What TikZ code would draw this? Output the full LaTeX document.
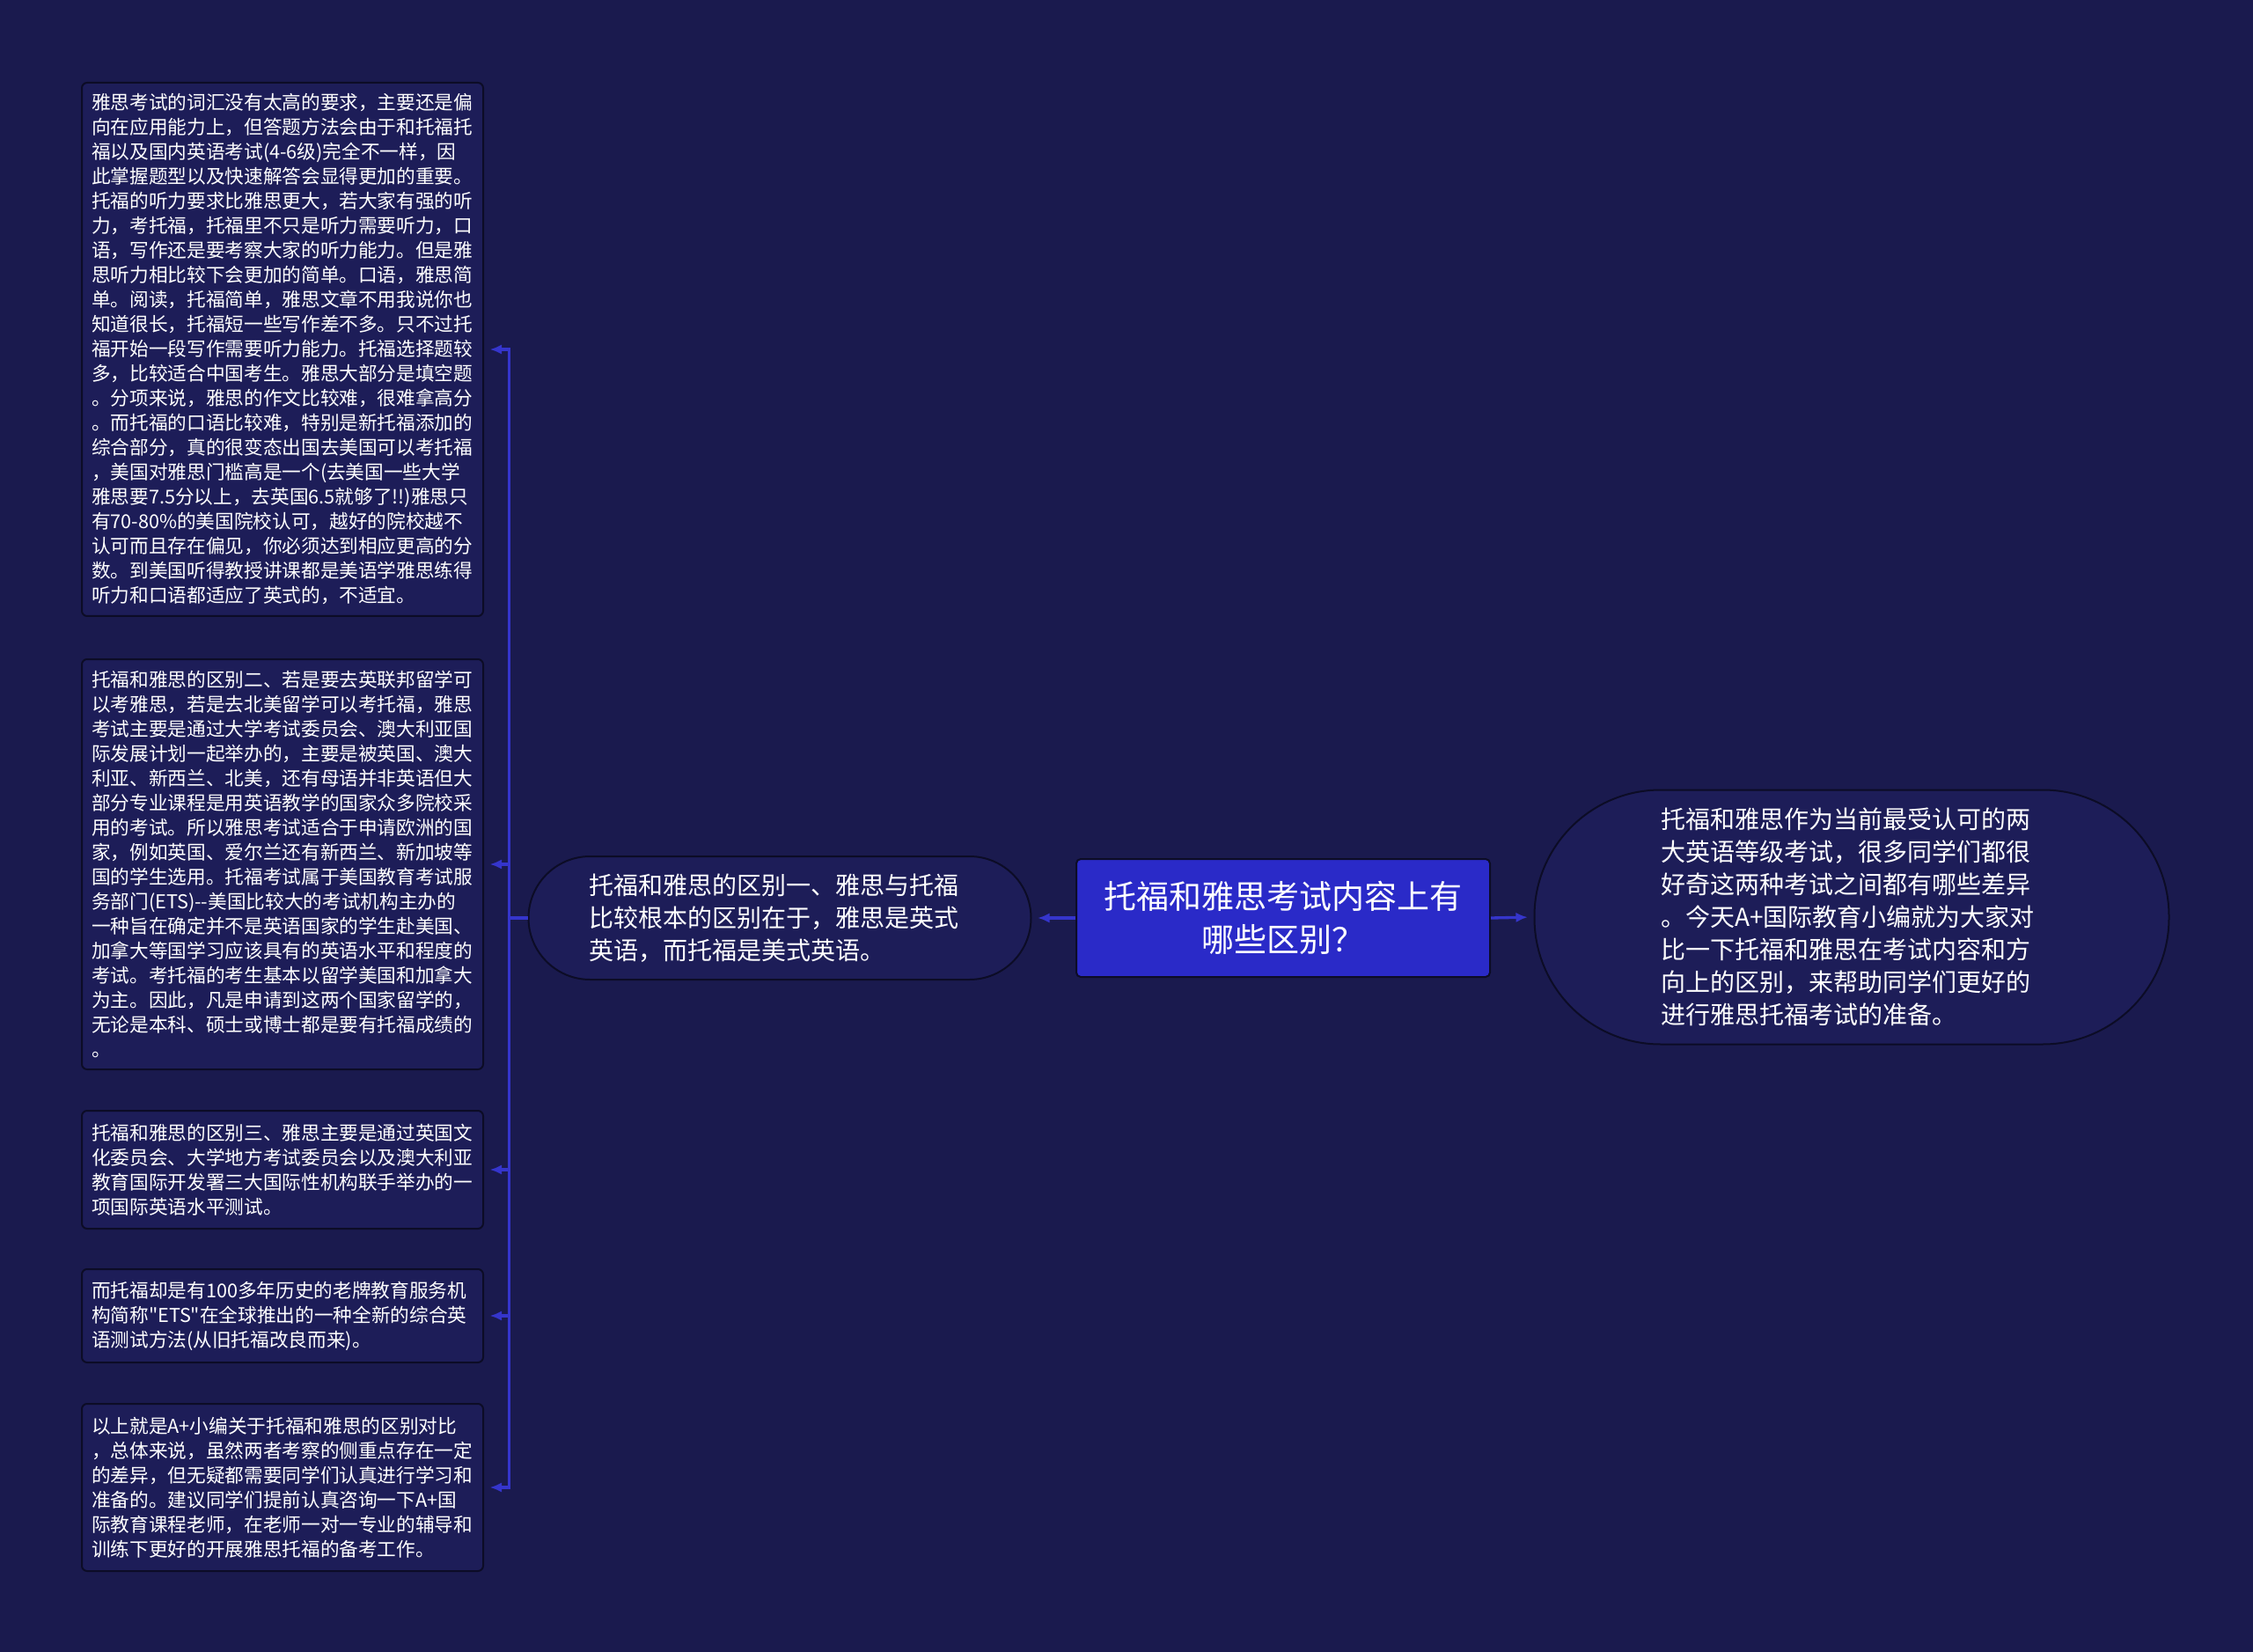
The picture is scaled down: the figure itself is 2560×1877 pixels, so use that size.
\documentclass[tikz,border=0pt]{standalone}
\usepackage{fontspec}
\usetikzlibrary{arrows.meta}
\newfontfamily\cjk{Noto Sans CJK SC}
\definecolor{bgnavy}{HTML}{1A1A4E}
\definecolor{boxnavy}{HTML}{1D1D58}
\definecolor{edgedark}{HTML}{0C0C26}
\definecolor{titleblue}{HTML}{2A2AC8}
\definecolor{linkblue}{HTML}{3535CC}

\begin{document}
\begin{tikzpicture}[x=0.3pt, y=-0.3pt,
    leaf/.style={draw=edgedark, line width=0.6pt, fill=boxnavy, rounded corners=1.8pt,
        text=white, align=left, inner xsep=3.3pt, inner ysep=2pt,
        minimum width=136.8pt, text width=130.2pt,
        font=\cjk\fontsize{6.5pt}{8.4pt}\selectfont},
    pill/.style={draw=edgedark, line width=0.6pt, fill=boxnavy, text=white, align=left,
        font=\cjk\fontsize{8.4pt}{11.1pt}\selectfont},
    link/.style={draw=linkblue, line width=1pt},
    tip/.style={-{Latex[length=4pt,width=3.4pt]}, shorten >=2pt}]
    \fill[bgnavy] (0,0) rectangle (2560,1877);
    \useasboundingbox (0,0) rectangle (2560,1877);

    % central topic
    \node[draw=edgedark, line width=0.6pt, fill=titleblue, rounded corners=1.5pt, text=white,
        align=center, minimum width=141pt, minimum height=40.2pt,
        font=\cjk\fontsize{11.1pt}{14.7pt}\selectfont] (title) at (1458,1043)
        {托福和雅思考试内容上有\\哪些区别？};

    \node[pill, rounded corners=43pt, minimum width=216.3pt, minimum height=86.7pt,
        text width=130pt] (intro) at (2104,1042)
        {托福和雅思作为当前最受认可的两\\
        大英语等级考试，很多同学们都很\\
        好奇这两种考试之间都有哪些差异\\
        。今天A+国际教育小编就为大家对\\
        比一下托福和雅思在考试内容和方\\
        向上的区别，来帮助同学们更好的\\
        进行雅思托福考试的准备。};

    \node[pill, rounded corners=21pt, minimum width=171.3pt, minimum height=42pt,
        text width=130pt] (diff1) at (886,1043)
        {托福和雅思的区别一、雅思与托福\\
        比较根本的区别在于，雅思是英式\\
        英语，而托福是美式英语。};

    % left column
    \node[leaf, minimum height=181.8pt] (box1) at (321,397)
        {雅思考试的词汇没有太高的要求，主要还是偏\\
        向在应用能力上，但答题方法会由于和托福托\\
        福以及国内英语考试(4-6级)完全不一样，因\\
        此掌握题型以及快速解答会显得更加的重要。\\
        托福的听力要求比雅思更大，若大家有强的听\\
        力，考托福，托福里不只是听力需要听力，口\\
        语，写作还是要考察大家的听力能力。但是雅\\
        思听力相比较下会更加的简单。口语，雅思简\\
        单。阅读，托福简单，雅思文章不用我说你也\\
        知道很长，托福短一些写作差不多。只不过托\\
        福开始一段写作需要听力能力。托福选择题较\\
        多，比较适合中国考生。雅思大部分是填空题\\
        。分项来说，雅思的作文比较难，很难拿高分\\
        。而托福的口语比较难，特别是新托福添加的\\
        综合部分，真的很变态出国去美国可以考托福\\
        ，美国对雅思门槛高是一个(去美国一些大学\\
        雅思要7.5分以上，去英国6.5就够了!!)雅思只\\
        有70-80\%的美国院校认可，越好的院校越不\\
        认可而且存在偏见，你必须达到相应更高的分\\
        数。到美国听得教授讲课都是美语学雅思练得\\
        听力和口语都适应了英式的，不适宜。};

    \node[leaf, minimum height=139.8pt] (box2) at (321,982)
        {托福和雅思的区别二、若是要去英联邦留学可\\
        以考雅思，若是去北美留学可以考托福，雅思\\
        考试主要是通过大学考试委员会、澳大利亚国\\
        际发展计划一起举办的，主要是被英国、澳大\\
        利亚、新西兰、北美，还有母语并非英语但大\\
        部分专业课程是用英语教学的国家众多院校采\\
        用的考试。所以雅思考试适合于申请欧洲的国\\
        家，例如英国、爱尔兰还有新西兰、新加坡等\\
        国的学生选用。托福考试属于美国教育考试服\\
        务部门(ETS)-{}-美国比较大的考试机构主办的\\
        一种旨在确定并不是英语国家的学生赴美国、\\
        加拿大等国学习应该具有的英语水平和程度的\\
        考试。考托福的考生基本以留学美国和加拿大\\
        为主。因此，凡是申请到这两个国家留学的，\\
        无论是本科、硕士或博士都是要有托福成绩的\\
        。};

    \node[leaf, minimum height=40.2pt] (box3) at (321,1329)
        {托福和雅思的区别三、雅思主要是通过英国文\\
        化委员会、大学地方考试委员会以及澳大利亚\\
        教育国际开发署三大国际性机构联手举办的一\\
        项国际英语水平测试。};

    \node[leaf, minimum height=31.8pt] (box4) at (321,1495)
        {而托福却是有100多年历史的老牌教育服务机\\
        构简称"ETS"在全球推出的一种全新的综合英\\
        语测试方法(从旧托福改良而来)。};

    \node[leaf, minimum height=57pt] (box5) at (321,1690)
        {以上就是A+小编关于托福和雅思的区别对比\\
        ，总体来说，虽然两者考察的侧重点存在一定\\
        的差异，但无疑都需要同学们认真进行学习和\\
        准备的。建议同学们提前认真咨询一下A+国\\
        际教育课程老师，在老师一对一专业的辅导和\\
        训练下更好的开展雅思托福的备考工作。};

    % connectors
    \draw[link, tip] (title.west) -- (diff1.east);
    \draw[link, tip] (title.east) -- (intro.west);
    \draw[link] (diff1.west) -- ++(-21,0) coordinate (trunk);
    \foreach \b in {box1,box2,box3,box4,box5}
        \draw[link, tip] (trunk) |- (\b.east);
\end{tikzpicture}
\end{document}
